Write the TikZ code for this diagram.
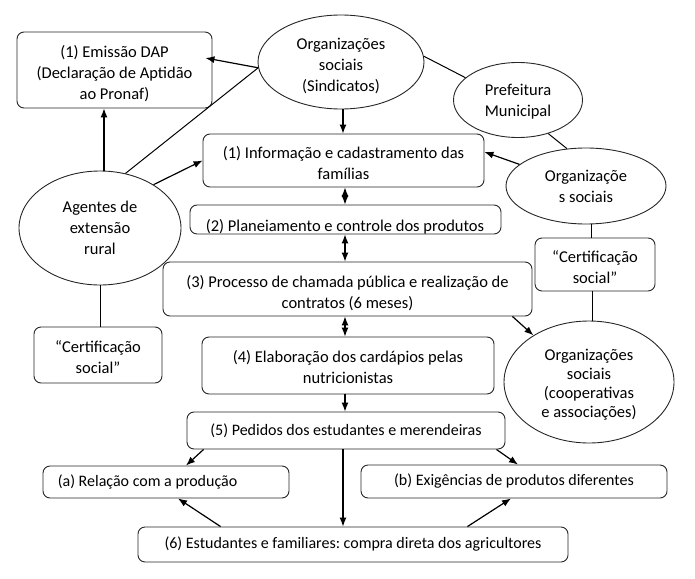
\documentclass[tikz,border=0pt]{standalone}
\usepackage{fontspec}
\setmainfont{Carlito}
\frenchspacing
\usetikzlibrary{arrows.meta,shapes.geometric,calc}
\begin{document}
\begin{tikzpicture}[x=1pt,y=-1pt,
  txt/.style={font=\fontsize{16.5}{21}\selectfont, text=black},
  small/.style={font=\fontsize{16}{21}\selectfont},
  lbl/.style={txt, align=center, inner sep=0pt},
  tx/.style 2 args={label={[lbl, yshift=-#1pt]center:{#2}}},
  box/.style={txt, draw=black!85, rounded corners=7pt, line width=0.9pt, align=center, inner sep=0pt, fill=white},
  ell/.style={txt, draw=black!85, ellipse, line width=0.9pt, align=center, inner sep=0pt},
  arr/.style={-{Latex[length=9pt,width=7pt]}, line width=1.2pt},
  darr/.style={{Latex[length=9pt,width=7pt]}-{Latex[length=9pt,width=7pt]}, line width=1.2pt},
  ln/.style={line width=1pt}]
\useasboundingbox (0,0) rectangle (695,578);

% nodes
\node[box, minimum width=195, minimum height=76, tx={3.5}{(1) Emissão DAP\\(Declaração de Aptidão\\ao Pronaf)}] (emis) at (114.5,70) {};
\node[ell, minimum width=166, minimum height=94, tx={4}{Organizações\\sociais\\(Sindicatos)}] (sind) at (341,62) {};
\node[ell, minimum width=129, minimum height=75, tx={2}{Prefeitura\\Municipal}] (pref) at (518,100) {};
\node[ell, minimum width=160, minimum height=76] (org) at (586,186) {Organizaçõe\\s sociais};
\node[box, minimum width=281, minimum height=53, tx={3}{(1) Informação e cadastramento das\\famílias}] (info) at (343.5,160.5) {};
\node[box, minimum width=311, minimum height=29] (box2) at (345.5,219.5) {};
\begin{scope}
\clip (190,205) rectangle (501,233);
\node[txt, anchor=base] (t2) at (345,231) {(2) Planeiamento e controle dos produtos};
\end{scope}
\node[box, minimum width=369, minimum height=54, tx={4}{(3) Processo de chamada pública e realização de\\contratos (6 meses)}] (box3) at (347.5,289) {};
\node[box, minimum width=292, minimum height=57, tx={2}{(4) Elaboração dos cardápios pelas\\nutricionistas}] (box4) at (348,365.5) {};
\node[box, small, minimum width=318, minimum height=37] (box5) at (346,430.5) {(5) Pedidos dos estudantes e merendeiras};
\node[box, small, minimum width=246, minimum height=32, label={[lbl, small, anchor=west, xshift=15pt]west:{(a) Relação com a produção}}] (boxa) at (166,482) {};
\node[box, small, minimum width=306, minimum height=33] (boxb) at (514,481.5) {(b) Exigências de produtos diferentes};
\node[box, small, minimum width=430, minimum height=35] (box6) at (353,544.5) {(6) Estudantes e familiares: compra direta dos agricultores};
\node[ell, minimum width=162, minimum height=114] (agentes) at (100,228) {Agentes de\\extensão\\rural};
\node[box, minimum width=128, minimum height=56, tx={2}{“Certificação\\social”}] (certL) at (98,355) {};
\node[box, minimum width=120, minimum height=53, tx={3}{“Certificação\\social”}] (certR) at (595,264.5) {};
\node[ell, minimum width=170, minimum height=122, label={[lbl, font=\fontsize{16.5}{19}\selectfont, yshift=-3pt]center:{Organizações\\sociais\\(cooperativas\\e associações)}}] (coop) at (589,382) {};

% connectors
\draw[arr] (sind.184) -- ($(emis.east)+(-7,-12)$);
\draw[arr] ($(agentes.north)+(4,0)$) -- ($(emis.south)+(-10.5,0)$);
\draw[ln] (agentes.65) -- (sind.184);
\draw[arr] (agentes.39) -- (info.west);
\draw[arr] ($(sind.south)+(2,0)$) -- ($(info.north)+(-0.5,0)$);
\draw[ln] (sind.4) -- (pref.157);
\draw[ln] (pref.-48) -- (org.117);
\draw[arr] (org.162) -- ($(info.east)+(0,-8.5)$);
\draw[ln] ($(certR.north)+(-4,0)$) -- ($(org.south)+(5,0)$);
\draw[ln] ($(certR.south)+(-3,0)$) -- ($(coop.north)+(3,0)$);
\draw[arr] ($(box3.south east)+(-20,0)$) -- (coop.140);
\draw[ln] (agentes.south) -- (agentes.south |- certL.north);

\draw[darr] ($(info.south)+(1.5,0)$) -- ($(box2.north)+(-0.5,0)$);
\draw[darr] ($(box2.south)+(-0.5,0)$) -- ($(box3.north)+(-2.5,0)$);
\draw[darr] ($(box3.south)+(-2.5,0)$) -- ($(box4.north)+(-3,0)$);
\draw[arr] ($(box4.south)+(-3,0)$) -- ($(box5.north)+(-1,0)$);

\draw[arr] ($(box5.south west)+(17,0)$) -- ($(boxa.north)+(20,0)$);
\draw[arr] ($(box5.south east)+(-9,0)$) -- ($(boxb.north)+(4,0)$);
\draw[arr] ($(box5.south)+(-3,0)$) -- ($(box6.north)+(-10,0)$);
\draw[arr] ($(box6.north west)+(83,0)$) -- ($(boxa.south)+(12,0)$);
\draw[arr] ($(box6.north east)+(-101,0)$) -- ($(boxb.south)+(-3,0)$);
\end{tikzpicture}
\end{document}
